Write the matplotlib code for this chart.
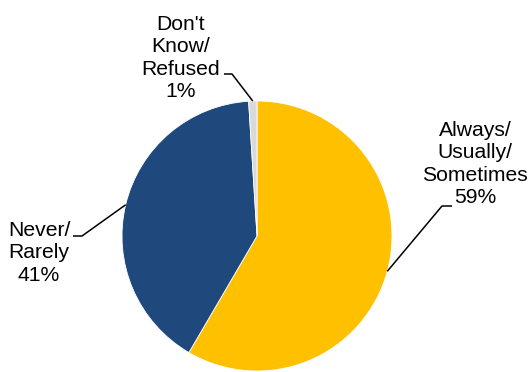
import numpy as np
import matplotlib
matplotlib.use("Agg")
import matplotlib.pyplot as plt

# Data
labels = ["Always/\nUsually/\nSometimes", "Never/\nRarely", "Don't\nKnow/\nRefused"]
pct_labels = ["59%", "41%", "1%"]
values = [59, 41, 1]
colors = ["#FFC000", "#1F497D", "#D9D9D9"]

W, H = 531, 372
fig = plt.figure(figsize=(W / 100, H / 100), dpi=100)
ax = fig.add_axes([0, 0, 1, 1])

# pie center / radius in pixel coords (y measured from bottom)
cx, cy, r = 257, H - 236, 135

wedges, _ = ax.pie(
    values,
    colors=colors,
    startangle=90,
    counterclock=False,
    center=(cx, cy),
    radius=r,
    wedgeprops=dict(edgecolor="white", linewidth=0.6),
    frame=True,
)
ax.set_xlim(0, W)
ax.set_ylim(0, H)
ax.set_aspect("equal")
ax.axis("off")

# label text positions, elbow and line-end positions (image pixels)
text_pos = [(475, 164), (39, 253), (181, 58)]
elbow = [(442, 206), (82, 236), (232, 74)]
line_end = [(452, 206), (73, 236), (224, 74)]

for i, w in enumerate(wedges):
    mid = np.deg2rad((w.theta1 + w.theta2) / 2)
    ax_x = cx + r * np.cos(mid)
    ax_y = cy + r * np.sin(mid)
    ex, ey = elbow[i]
    lx, ly = line_end[i]
    ax.plot([ax_x, ex, lx], [ax_y, H - ey, H - ly], color="black", lw=1.1,
            solid_capstyle="butt")
    tx, ty = text_pos[i]
    ax.text(tx, H - ty, labels[i] + "\n" + pct_labels[i], ha="center",
            va="center", fontsize=15.2, family="Liberation Sans",
            linespacing=1.22, color="black")

plt.savefig("out.png", dpi=100)
